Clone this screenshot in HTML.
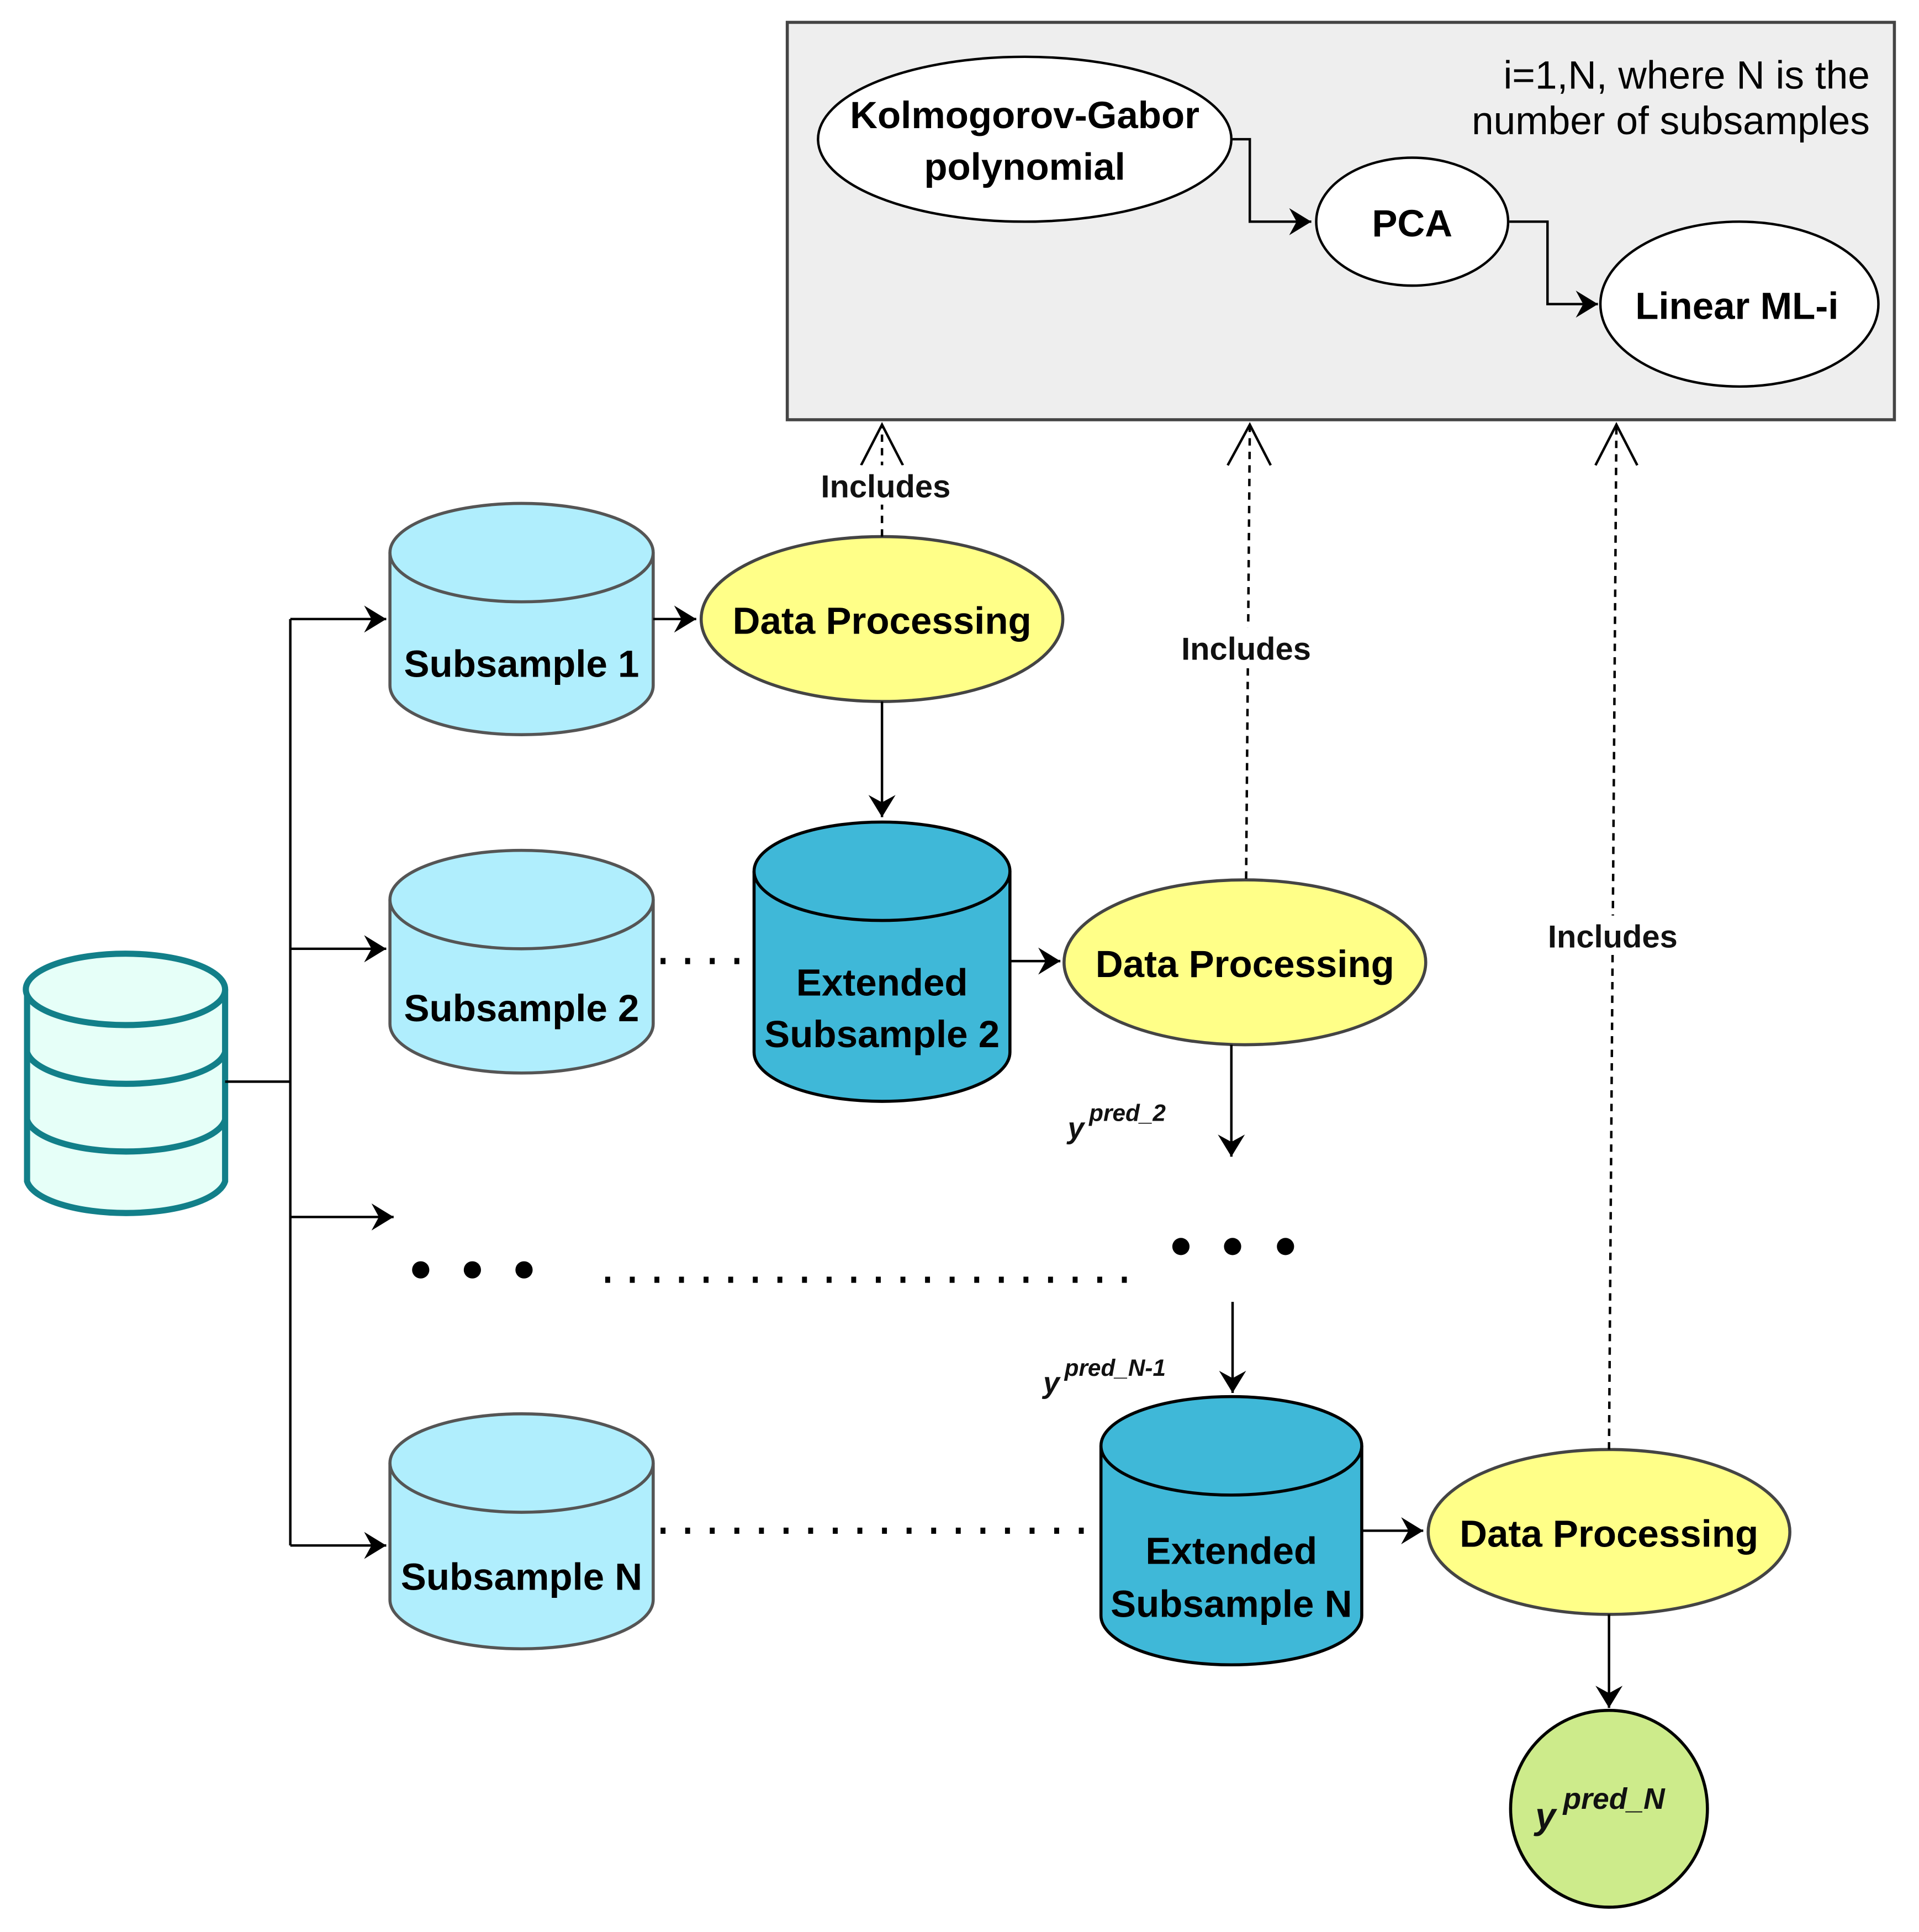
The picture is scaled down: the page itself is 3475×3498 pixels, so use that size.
<!DOCTYPE html>
<html><head><meta charset="utf-8"><style>
html,body{margin:0;padding:0;background:#fff;}
svg{display:block;}
text{font-family:"Liberation Sans",sans-serif;}
.t{font-weight:bold;font-size:31px;fill:#000;text-anchor:middle;}
.inc{font-weight:bold;font-size:26px;fill:#111;text-anchor:middle;}
.y{font-weight:bold;font-style:italic;fill:#111;}
</style></head><body>
<svg width="3475" height="3498" viewBox="0 0 1560 1570" xmlns="http://www.w3.org/2000/svg">
<defs>
<marker id="b" markerWidth="24" markerHeight="24" refX="20" refY="12" orient="auto" markerUnits="userSpaceOnUse">
<path d="M2,1 L20,12 L2,23 L8,12 z" fill="#000"/></marker>
</defs>
<rect x="0" y="0" width="1560" height="1570" fill="#fff"/>
<rect x="640" y="18" width="900" height="323" fill="#eeeeee" stroke="#444" stroke-width="2.5"/>
<text x="1520" y="72" font-size="32" text-anchor="end" fill="#000">i=1,N, where N is the</text>
<text x="1520" y="109" font-size="32" text-anchor="end" fill="#000">number of subsamples</text>
<ellipse cx="833" cy="113" rx="168" ry="67" fill="#fff" stroke="#000" stroke-width="2"/>
<text class="t" x="833" y="104">Kolmogorov-Gabor</text>
<text class="t" x="833" y="146">polynomial</text>
<ellipse cx="1148" cy="180" rx="78" ry="52" fill="#fff" stroke="#000" stroke-width="2"/>
<text class="t" x="1148" y="192">PCA</text>
<ellipse cx="1414" cy="247" rx="113" ry="67" fill="#fff" stroke="#000" stroke-width="2"/>
<text class="t" x="1412" y="259">Linear ML-i</text>
<path d="M1002,113 H1016 V180 H1066" fill="none" stroke="#000" stroke-width="2" marker-end="url(#b)"/>
<path d="M1227,180 H1258 V247 H1299" fill="none" stroke="#000" stroke-width="2" marker-end="url(#b)"/>

<g fill="#e6fff8" stroke="#127f89" stroke-width="5">
<path d="M22,804 V960 A81,29 0 0 0 183,960 V804"/>
<ellipse cx="102" cy="804" rx="81" ry="29"/>
<path d="M22,855 A81,29 0 0 0 183,855" fill="none"/>
<path d="M22,910 A81,29 0 0 0 183,910" fill="none"/>
</g>
<path d="M183,879 H236 M236,503 V1256" stroke="#000" stroke-width="2" fill="none"/>
<path d="M236,503 H314" stroke="#000" stroke-width="2" marker-end="url(#b)"/>
<path d="M236,771 H314" stroke="#000" stroke-width="2" marker-end="url(#b)"/>
<path d="M236,989 H320" stroke="#000" stroke-width="2" marker-end="url(#b)"/>
<path d="M236,1256 H314" stroke="#000" stroke-width="2" marker-end="url(#b)"/>

<g fill="#b0eefd" stroke="#555" stroke-width="2.5">
<path d="M317,449 V557 A107,40 0 0 0 531,557 V449"/><ellipse cx="424" cy="449" rx="107" ry="40"/>
<path d="M317,731 V832 A107,40 0 0 0 531,832 V731"/><ellipse cx="424" cy="731" rx="107" ry="40"/>
<path d="M317,1189 V1300 A107,40 0 0 0 531,1300 V1189"/><ellipse cx="424" cy="1189" rx="107" ry="40"/>
</g>
<text class="t" x="424" y="550">Subsample 1</text>
<text class="t" x="424" y="830">Subsample 2</text>
<text class="t" x="424" y="1292">Subsample N</text>

<g fill="#3fb8d8" stroke="#000" stroke-width="2.5">
<path d="M613,708 V855 A104,40 0 0 0 821,855 V708"/><ellipse cx="717" cy="708" rx="104" ry="40"/>
<path d="M895,1175 V1313 A106,40 0 0 0 1107,1313 V1175"/><ellipse cx="1001" cy="1175" rx="106" ry="40"/>
</g>
<text class="t" x="717" y="809">Extended</text>
<text class="t" x="717" y="851">Subsample 2</text>
<text class="t" x="1001" y="1271">Extended</text>
<text class="t" x="1001" y="1314">Subsample N</text>

<g fill="#ffff88" stroke="#444" stroke-width="2.5">
<ellipse cx="717" cy="503" rx="147" ry="67"/>
<ellipse cx="1012" cy="782" rx="147" ry="67"/>
<ellipse cx="1308" cy="1245" rx="147" ry="67"/>
</g>
<text class="t" x="717" y="515">Data Processing</text>
<text class="t" x="1012" y="794">Data Processing</text>
<text class="t" x="1308" y="1257">Data Processing</text>

<path d="M531,503 H566" stroke="#000" stroke-width="2" marker-end="url(#b)"/>
<path d="M717,570 V664" stroke="#000" stroke-width="2" marker-end="url(#b)"/>
<path d="M821,781 H862" stroke="#000" stroke-width="2" marker-end="url(#b)"/>
<path d="M1001,849 V940" stroke="#000" stroke-width="2" marker-end="url(#b)"/>
<path d="M1002,1058 V1132" stroke="#000" stroke-width="2" marker-end="url(#b)"/>
<path d="M1107,1244 H1157" stroke="#000" stroke-width="2" marker-end="url(#b)"/>
<path d="M1308,1312 V1388" stroke="#000" stroke-width="2" marker-end="url(#b)"/>

<g stroke="#000" stroke-width="5" stroke-dasharray="4,16">
<path d="M537,781 H612"/>
<path d="M492,1040 H932"/>
<path d="M537,1244 H890"/>
</g>
<g fill="#000">
<circle cx="342" cy="1032" r="7"/><circle cx="384" cy="1032" r="7"/><circle cx="426" cy="1032" r="7"/>
<circle cx="960" cy="1013" r="7"/><circle cx="1002" cy="1013" r="7"/><circle cx="1045" cy="1013" r="7"/>
</g>

<g stroke="#000" stroke-width="2" fill="none">
<path d="M717,436 V347" stroke-dasharray="6,5"/>
<path d="M700,378 L717,345 L734,378"/>
<path d="M1013,714 L1016,347" stroke-dasharray="6,5"/>
<path d="M998,378 L1016,345 L1033,378"/>
<path d="M1308,1178 L1314,347" stroke-dasharray="6,5"/>
<path d="M1297,378 L1314,345 L1331,378"/>
</g>
<rect x="658" y="378" width="124" height="32" fill="#fff"/>
<text class="inc" x="720" y="404">Includes</text>
<rect x="950" y="510" width="126" height="32" fill="#fff"/>
<text class="inc" x="1013" y="536">Includes</text>
<rect x="1250" y="744" width="124" height="32" fill="#fff"/>
<text class="inc" x="1311" y="770">Includes</text>

<text class="y" x="868" y="925" font-size="24">y<tspan dx="4" dy="-14" font-size="19">pred_2</tspan></text>
<text class="y" x="848" y="1132" font-size="24">y<tspan dx="4" dy="-14" font-size="19">pred_N-1</tspan></text>

<circle cx="1308" cy="1470" r="80" fill="#cdeb8b" stroke="#000" stroke-width="2.5"/>
<text class="y" x="1248" y="1486" font-size="30">y<tspan dx="6" dy="-16" font-size="24">pred_N</tspan></text>
</svg>
</body></html>
